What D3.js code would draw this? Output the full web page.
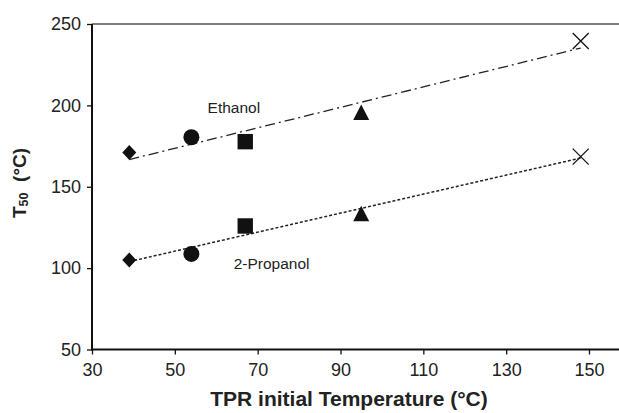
<!DOCTYPE html>
<html>
<head>
<meta charset="utf-8">
<script src="https://cdn.jsdelivr.net/npm/d3@7"></script>
<style>
  html, body { margin: 0; padding: 0; background: #fff; }
  svg { display: block; font-family: "Liberation Sans", Arial, Helvetica, sans-serif; }
</style>
</head>
<body>
<div id="chart"></div>
<script>
// TPR initial temperature (x) for each catalyst marker
const tprTemps = [39, 54, 67, 95, 148];
const markerShapes = ['diamond', 'circle', 'square', 'triangle', 'cross'];
// T50 values
const ethanolT50 = [171, 180.4, 177.7, 195.6, 239.6];
const propanolT50 = [105, 108.7, 125.9, 133.4, 168.5];
const xTicks = [30, 50, 70, 90, 110, 130, 150];
const yTicks = [50, 100, 150, 200, 250];

const width = 619, height = 413;
const margin = { top: 24, left: 92, bottom: 349.5 };

const svg = d3.select('#chart').append('svg')
    .attr('width', width)
    .attr('height', height);

const x = d3.scaleLinear().domain([30, 150]).range([margin.left, 589]);
const y = d3.scaleLinear().domain([50, 250]).range([margin.bottom, margin.top]);

// least squares fit for the trend lines
function fit(xs, ys) {
    const mx = d3.mean(xs), my = d3.mean(ys);
    let sxy = 0, sxx = 0;
    xs.forEach((v, i) => { sxy += (v - mx) * (ys[i] - my); sxx += (v - mx) * (v - mx); });
    const b = sxy / sxx;
    return v => my + b * (v - mx);
}

// top frame line (grey)
svg.append('line')
    .attr('x1', margin.left).attr('x2', width)
    .attr('y1', y(250)).attr('y2', y(250))
    .attr('stroke', '#555').attr('stroke-width', 1.5);

// axes
const yAxis = svg.append('g')
    .attr('transform', `translate(${margin.left},0)`)
    .call(d3.axisLeft(y).tickValues(yTicks).tickSize(5).tickPadding(6));
const xAxis = svg.append('g')
    .attr('transform', `translate(0,${margin.bottom})`)
    .call(d3.axisBottom(x).tickValues(xTicks).tickSize(5).tickPadding(9));

[yAxis, xAxis].forEach(g => {
    g.select('.domain').remove();
    g.selectAll('line').attr('stroke', '#111').attr('stroke-width', 1.3);
    g.selectAll('text').attr('fill', '#222').style('font-size', '18px')
        .style('font-family', '"Liberation Sans", Arial, sans-serif');
});

svg.append('line')
    .attr('x1', margin.left).attr('x2', margin.left)
    .attr('y1', y(250)).attr('y2', margin.bottom + 1)
    .attr('stroke', '#111').attr('stroke-width', 2);
svg.append('line')
    .attr('x1', margin.left - 1).attr('x2', width)
    .attr('y1', margin.bottom).attr('y2', margin.bottom)
    .attr('stroke', '#111').attr('stroke-width', 2);

// trend lines
const series = [
    { name: 'Ethanol', values: ethanolT50, dash: '10,4,2,4', width: 1.3 },
    { name: '2-Propanol', values: propanolT50, dash: '3,2', width: 1.5 }
];
const xEnds = d3.extent(tprTemps);
series.forEach(s => {
    const f = fit(tprTemps, s.values);
    svg.append('line')
        .attr('x1', x(xEnds[0])).attr('y1', y(f(xEnds[0])))
        .attr('x2', x(xEnds[1])).attr('y2', y(f(xEnds[1])))
        .attr('stroke', '#222')
        .attr('stroke-width', s.width)
        .attr('stroke-dasharray', s.dash);
});

// marker shapes, centred on the point
function shapePath(shape) {
    switch (shape) {
        case 'diamond': return 'M0,-7.5L7,0L0,7.5L-7,0Z';
        case 'circle': return 'M8,0A8,8 0 1,1 -8,0A8,8 0 1,1 8,0Z';
        case 'square': return 'M-7.7,-7.7H7.7V7.7H-7.7Z';
        case 'triangle': return 'M0,-8L8,7.5H-8Z';
        case 'cross': return 'M-8,-8L8,8M8,-8L-8,8';
    }
}

series.forEach(s => {
    svg.append('g').selectAll('path')
        .data(tprTemps.map((t, i) => ({ t: t, v: s.values[i], shape: markerShapes[i] })))
        .enter().append('path')
        .attr('transform', d => `translate(${x(d.t)},${y(d.v)})`)
        .attr('d', d => shapePath(d.shape))
        .attr('fill', d => d.shape === 'cross' ? 'none' : '#111')
        .attr('stroke', d => d.shape === 'cross' ? '#111' : 'none')
        .attr('stroke-width', 1.3);
});

// series labels
svg.append('text')
    .attr('x', x(57.9)).attr('y', y(195.6))
    .style('font-size', '15.5px').attr('fill', '#222')
    .text('Ethanol');
svg.append('text')
    .attr('x', x(64.2)).attr('y', y(99.5))
    .style('font-size', '15.5px').attr('fill', '#222')
    .text('2-Propanol');

// axis titles
svg.append('text')
    .attr('x', 349).attr('y', 406)
    .attr('text-anchor', 'middle')
    .style('font-size', '21px').style('font-weight', 'bold').attr('fill', '#222')
    .text('TPR initial Temperature (°C)');

const yTitle = svg.append('text')
    .attr('transform', 'translate(26,183) rotate(-90)')
    .attr('text-anchor', 'middle')
    .style('font-size', '19px').style('font-weight', 'bold').attr('fill', '#222');
yTitle.append('tspan').text('T');
yTitle.append('tspan').attr('dy', 2).style('font-size', '12.5px').text('50');
yTitle.append('tspan').attr('dy', -2).attr('xml:space', 'preserve').text('\u00a0\u00a0(°C)');
</script>
</body>
</html>
